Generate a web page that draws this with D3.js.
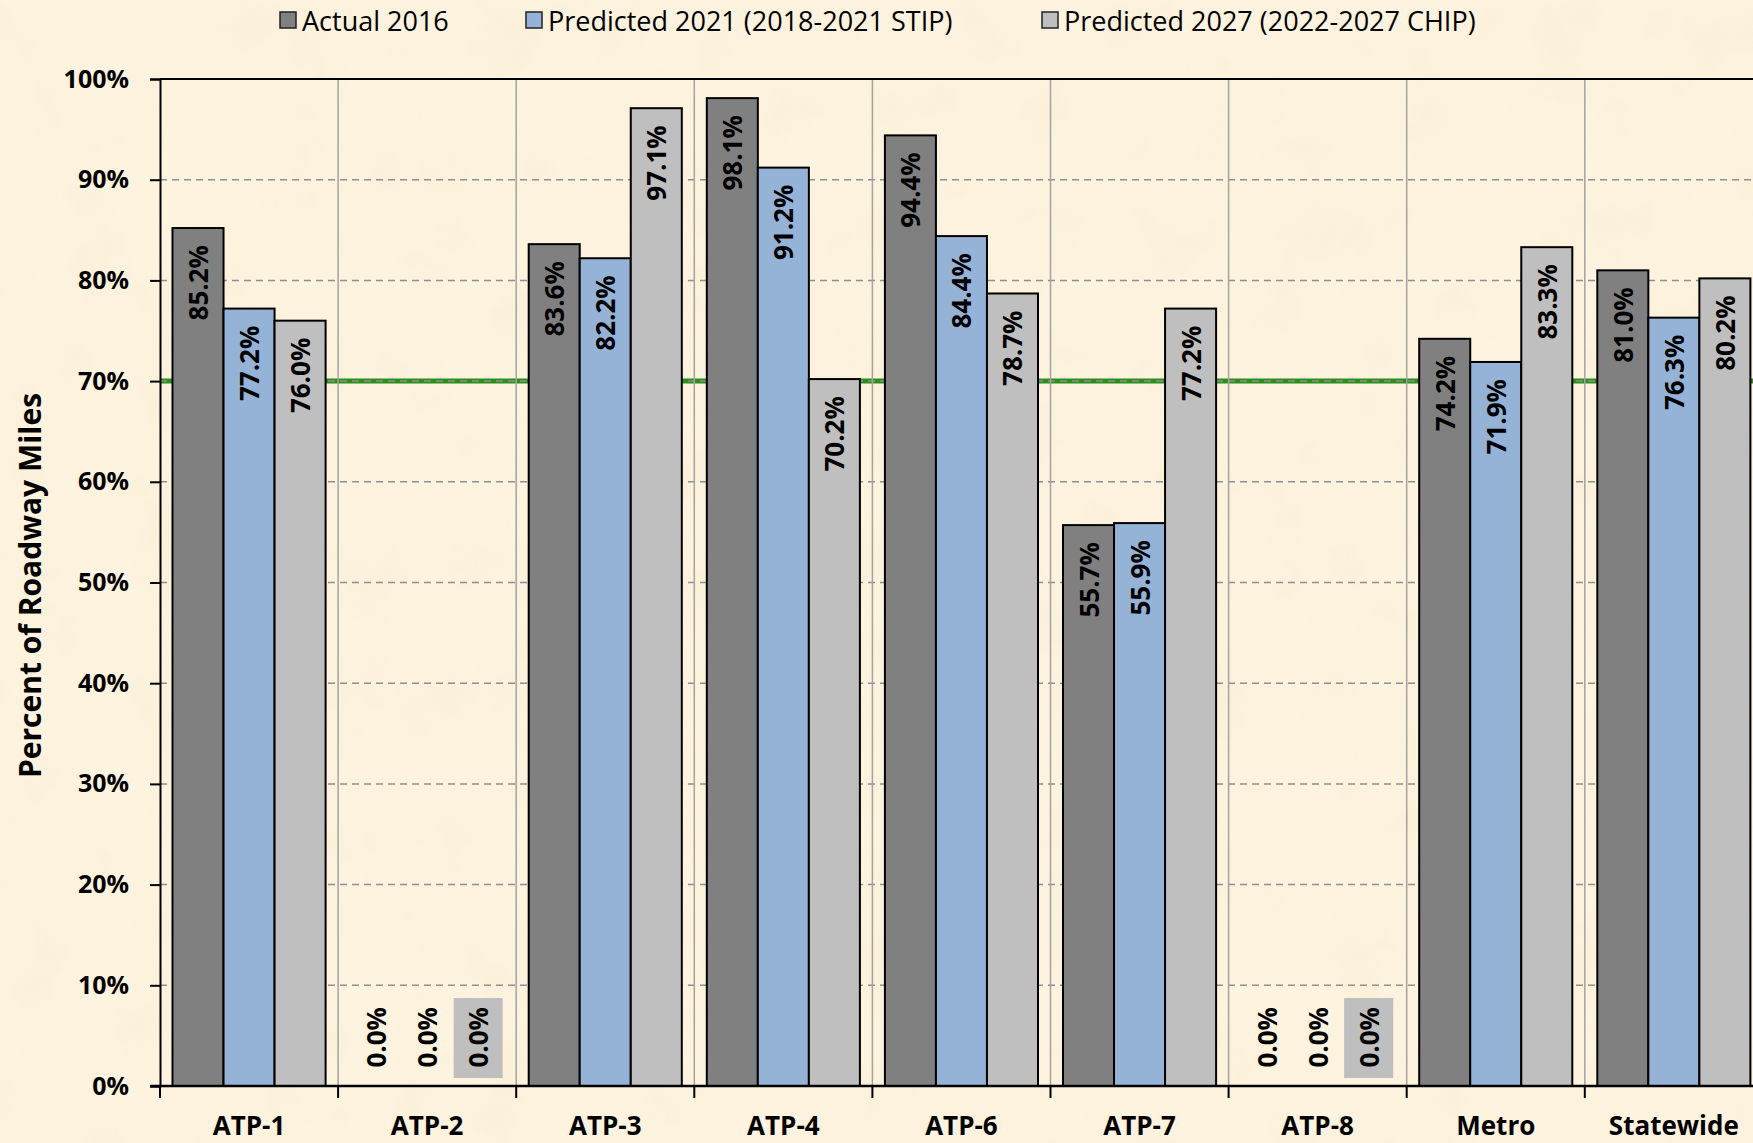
<!DOCTYPE html>
<html>
<head>
<meta charset="utf-8">
<script src="https://cdn.jsdelivr.net/npm/d3@7"></script>
<style>
  html, body { margin: 0; padding: 0; background: #fcf0d9; }
  svg { display: block; }
</style>
</head>
<body>
<svg id="chart" width="1753" height="1143"></svg>
<script>
const categories = ['ATP-1', 'ATP-2', 'ATP-3', 'ATP-4', 'ATP-6', 'ATP-7', 'ATP-8', 'Metro', 'Statewide']
const seriesNames = ['Actual 2016', 'Predicted 2021 (2018-2021 STIP)', 'Predicted 2027 (2022-2027 CHIP)']
const actual2016 = [85.2, 0.0, 83.6, 98.1, 94.4, 55.7, 0.0, 74.2, 81.0]
const predicted2021 = [77.2, 0.0, 82.2, 91.2, 84.4, 55.9, 0.0, 71.9, 76.3]
const predicted2027 = [76.0, 0.0, 97.1, 70.2, 78.7, 77.2, 0.0, 83.3, 80.2]
const yTicks = [0, 10, 20, 30, 40, 50, 60, 70, 80, 90, 100]
const targetValue = 70

const colors = ['#808080', '#95b3d7', '#bfbfbf']
const font = "'Open Sans', sans-serif"

const svg = d3.select('#chart')
const width = +svg.attr('width')
const height = +svg.attr('height')

const plotLeft = 160
const bandW = 178.1
const plotTop = 79
const plotBottom = 1086

// parchment background
const defs = svg.append('defs')
const filt = defs.append('filter').attr('id', 'paper')
  .attr('x', 0).attr('y', 0).attr('width', '100%').attr('height', '100%')
filt.append('feTurbulence').attr('type', 'fractalNoise')
  .attr('baseFrequency', '0.015').attr('numOctaves', 4).attr('seed', 7)
filt.append('feColorMatrix').attr('type', 'matrix')
  .attr('values', '0 0 0 0 0.92  0 0 0 0 0.83  0 0 0 0 0.62  0 0 0 -1.3 0.85')
svg.append('rect').attr('width', width).attr('height', height).attr('fill', '#fdf3df')
svg.append('rect').attr('width', width).attr('height', height).attr('filter', 'url(#paper)').attr('opacity', 0.4)

const x = d3.scaleBand()
  .domain(categories)
  .range([plotLeft, plotLeft + bandW * categories.length])
  .paddingInner(0).paddingOuter(0)

const xs = d3.scaleBand()
  .domain(d3.range(seriesNames.length))
  .range([0, x.bandwidth()])
  .paddingOuter(0.245).paddingInner(0)

const y = d3.scaleLinear().domain([0, 100]).range([plotBottom, plotTop])

// target line at 70%
svg.append('line')
  .attr('x1', plotLeft).attr('x2', x.range()[1])
  .attr('y1', y(targetValue)).attr('y2', y(targetValue))
  .attr('stroke', '#2a8f1c').attr('stroke-width', 5)

// horizontal dashed grid
svg.append('g')
  .selectAll('line')
  .data(yTicks.filter(d => d > 0 && d < 100))
  .join('line')
  .attr('x1', plotLeft).attr('x2', x.range()[1])
  .attr('y1', d => y(d)).attr('y2', d => y(d))
  .attr('stroke', '#8f8f8f').attr('stroke-width', 1.5)
  .attr('stroke-dasharray', '7,5')

// vertical category grid
svg.append('g')
  .selectAll('line')
  .data(categories.slice(1))
  .join('line')
  .attr('x1', d => x(d)).attr('x2', d => x(d))
  .attr('y1', plotTop).attr('y2', plotBottom)
  .attr('stroke', '#a3a3a3').attr('stroke-width', 1.5)

// top border
svg.append('line')
  .attr('x1', plotLeft).attr('x2', x.range()[1])
  .attr('y1', plotTop).attr('y2', plotTop)
  .attr('stroke', '#000').attr('stroke-width', 2)

const seriesData = [actual2016, predicted2021, predicted2027]
const rows = []
categories.forEach((c, i) => {
  seriesData.forEach((s, j) => rows.push({ cat: c, s: j, v: s[i] }))
})

// bars
svg.append('g')
  .selectAll('rect')
  .data(rows.filter(d => d.v > 0))
  .join('rect')
  .attr('x', d => x(d.cat) + xs(d.s))
  .attr('y', d => y(d.v))
  .attr('width', xs.bandwidth())
  .attr('height', d => y(0) - y(d.v))
  .attr('fill', d => colors[d.s])
  .attr('stroke', '#000').attr('stroke-width', 2)

// label background boxes for zero values of last series
svg.append('g')
  .selectAll('rect')
  .data(rows.filter(d => d.v === 0 && d.s === 2))
  .join('rect')
  .attr('x', d => x(d.cat) + xs(d.s) + 1)
  .attr('y', y(0) - 88)
  .attr('width', xs.bandwidth() - 2)
  .attr('height', 80)
  .attr('fill', colors[2])

// data labels
svg.append('g')
  .selectAll('text')
  .data(rows)
  .join('text')
  .attr('transform', d => {
    const cx = x(d.cat) + xs(d.s) + xs.bandwidth() / 2
    const yy = d.v > 0 ? y(d.v) + 17 : y(0) - 79
    return `translate(${cx},${yy}) rotate(-90)`
  })
  .attr('text-anchor', 'end')
  .attr('dominant-baseline', 'central')
  .attr('font-family', font)
  .attr('font-weight', 700)
  .attr('font-size', 26)
  .attr('fill', '#000')
  .text(d => d.v.toFixed(1) + '%')

// y axis
const yAxis = svg.append('g')
  .attr('transform', `translate(${plotLeft},0)`)
  .call(d3.axisLeft(y).tickValues(yTicks).tickSize(10).tickPadding(21).tickFormat(d => d + '%'))
yAxis.select('.domain').attr('stroke', '#000').attr('stroke-width', 2)
yAxis.selectAll('.tick line').attr('stroke', '#000').attr('stroke-width', 2)
yAxis.selectAll('.tick text')
  .attr('font-family', font).attr('font-weight', 700).attr('font-size', 25).attr('fill', '#000')

// x axis
const xAxis = svg.append('g')
  .attr('transform', `translate(0,${plotBottom})`)
  .call(d3.axisBottom(x).tickSize(0).tickPadding(31))
xAxis.select('.domain').remove()
xAxis.append('line')
  .attr('x1', plotLeft - 10).attr('x2', x.range()[1])
  .attr('stroke', '#000').attr('stroke-width', 2.5)
xAxis.selectAll('.tick text')
  .attr('font-family', font).attr('font-weight', 700).attr('font-size', 26).attr('fill', '#000')
  .attr('dy', '0.7em')
xAxis.selectAll('.bound')
  .data(categories)
  .join('line')
  .attr('class', 'bound')
  .attr('x1', d => x(d)).attr('x2', d => x(d))
  .attr('y1', 0).attr('y2', 12)
  .attr('stroke', '#000').attr('stroke-width', 2)

// y axis title
svg.append('text')
  .attr('transform', `translate(29,${(plotTop + plotBottom) / 2 + 3}) rotate(-90)`)
  .attr('text-anchor', 'middle')
  .attr('dominant-baseline', 'central')
  .attr('font-family', font).attr('font-weight', 700).attr('font-size', 30)
  .text('Percent of Roadway Miles')

// legend
const legendX = [280, 526, 1042]
const legend = svg.append('g')
  .selectAll('g')
  .data(seriesNames)
  .join('g')
  .attr('transform', (d, i) => `translate(${legendX[i]},20)`)
legend.append('rect')
  .attr('x', 0).attr('y', -8).attr('width', 16).attr('height', 16)
  .attr('fill', (d, i) => colors[i]).attr('stroke', '#222').attr('stroke-width', 1.5)
legend.append('text')
  .attr('x', 22).attr('y', 0)
  .attr('dominant-baseline', 'central')
  .attr('font-family', font).attr('font-size', 27).attr('fill', '#000')
  .text(d => d)
</script>
</body>
</html>
